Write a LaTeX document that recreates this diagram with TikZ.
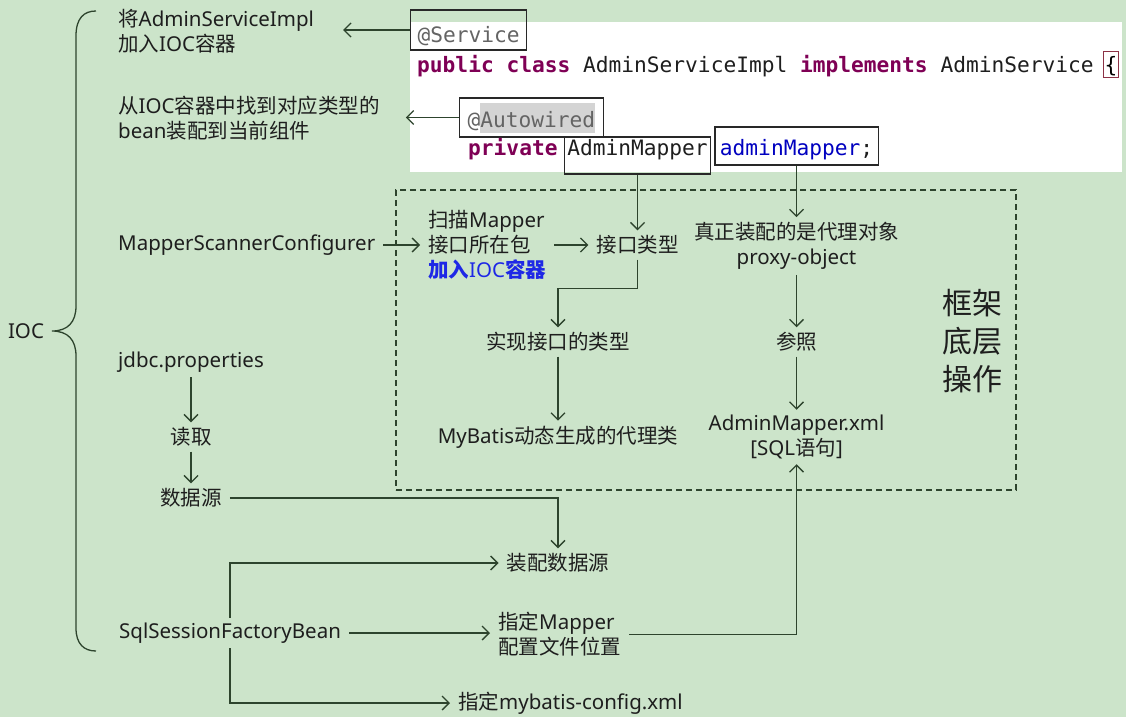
\documentclass[tikz,border=0pt]{standalone}
\usepackage{fontspec}
\setmainfont{Noto Sans}
\setmonofont{DejaVu Sans Mono}
\newfontfamily\zhfont{Noto Sans CJK SC}
\newcommand{\zh}[1]{{\zhfont #1}}
\usetikzlibrary{arrows.meta,positioning}
\definecolor{bgc}{RGB}{204,228,202}
\definecolor{linec}{RGB}{45,68,45}
\definecolor{textc}{RGB}{30,30,30}
\definecolor{kwc}{RGB}{127,0,85}
\definecolor{fieldc}{RGB}{0,0,192}
\definecolor{annc}{RGB}{100,100,100}
\definecolor{hlc}{RGB}{212,212,212}
\definecolor{boxc}{RGB}{40,40,40}
\definecolor{bracec}{RGB}{140,50,70}
\definecolor{iocblue}{RGB}{30,40,230}

\begin{document}
\begin{tikzpicture}[x=1pt, y=-1pt, node distance=95pt]

\tikzstyle{txt} = [font=\fontsize{20.5}{25}\selectfont, text=textc, inner xsep=8pt, inner ysep=5pt]
\tikzstyle{line} = [draw=linec, line width=1.3pt, -{Straight Barb[length=7pt,width=14pt]}]
\tikzstyle{code} = [font=\fontsize{21.2}{25}\selectfont\ttfamily, inner sep=0pt, anchor=base west]
\tikzstyle{codebox} = [code, draw=boxc, line width=1.2pt, inner ysep=0pt]
\tikzstyle{fwbox} = [draw=linec, dash pattern=on 6pt off 4pt, line width=1.1pt, minimum width=620pt, minimum height=300pt]

    % Background and code panel
    \fill[bgc] (0,0) rectangle (1126,717);
    \useasboundingbox (0,0) rectangle (1126,717);
    \node[fill=white, anchor=north west, inner sep=0pt, minimum width=712pt, minimum height=150pt] (panel) at (410,22) {};

    % Code lines
    \node[codebox, text=annc, text height=33pt, text depth=7pt, inner xsep=7pt] (service) at (410,43) {@Service};
    \node[code, text=textc] (classdecl) at (417,72) {\textcolor{kwc}{\bfseries public class} AdminServiceImpl \textcolor{kwc}{\bfseries implements} AdminService};
    \node[code, draw=bracec, line width=1pt, inner sep=1pt, text height=19pt, text depth=4pt] (lbrace) at (1103,72) {\{};
    \node[codebox, text=annc, text height=29pt, text depth=10pt, inner xsep=8pt] (autow) at (459,127) {@{\setlength{\fboxsep}{0pt}\colorbox{hlc}{\rule[-6pt]{0pt}{30pt}Autowired}}};
    \node[code, text=kwc] (priv) at (468,155) {\bfseries private};
    \node[codebox, text=textc, text height=18pt, text depth=19pt, inner xsep=3pt] (mtype) at ([xshift=6pt]priv.base east) {AdminMapper};
    \node[codebox, text=textc, text height=28pt, text depth=10pt, inner xsep=5pt] (mfield) at ([xshift=3pt]mtype.base east) {\textcolor{fieldc}{adminMapper};};

    % Left column
    \node[txt, anchor=west, align=left] (svc) at (110,31) {\zh{将}AdminServiceImpl\\\zh{加入}IOC\zh{容器}};
    \node[txt, anchor=west, align=left] (aw) at (110,118.5) {\zh{从}IOC\zh{容器中找到对应类型的}\\bean\zh{装配到当前组件}};
    \node[txt, anchor=west] (msc) at (110,245) {MapperScannerConfigurer};
    \node[txt, anchor=west] (jdbc) at (110,362) {jdbc.properties};
    \node[txt, below of=jdbc, node distance=75pt] (read) {\zh{读取}};
    \node[txt, below of=read, node distance=61pt] (src) {\zh{数据源}};
    \node[txt, anchor=west] (sqlf) at (111,633) {SqlSessionFactoryBean};

    % Framework part
    \node[fwbox] (fw) at (706,340) {};
    \node[txt, anchor=west, align=left] (scan) at (420,245) {\zh{扫描}Mapper\\\zh{接口所在包}\\\textcolor{iocblue}{\bfseries\zh{加入}IOC\zh{容器}}};
    \node[txt] (itype) at (mtype.south |- scan) {\zh{接口类型}};
    \node[txt] (impl) at (558,342) {\zh{实现接口的类型}};
    \node[txt, below of=impl] (mybatis) {MyBatis\zh{动态生成的代理类}};
    \node[txt, align=center, below of=mfield, node distance=100pt] (proxy) {\zh{真正装配的是代理对象}\\proxy-object};
    \node[txt, below of=proxy, node distance=96pt] (ref) {\zh{参照}};
    \node[txt, align=center, below of=ref] (xml) {AdminMapper.xml\\{[}SQL\zh{语句}{]}};
    \node[txt, font=\zhfont\fontsize{30}{38}\selectfont, align=left] (fwlabel) at (972,341) {框架\\底层\\操作};

    % Bottom part
    \node[txt] (asm) at (558,563) {\zh{装配数据源}};
    \node[txt, anchor=west, align=left] (mloc) at (490,634.5) {\zh{指定}Mapper\\\zh{配置文件位置}};
    \node[txt, anchor=west] (cfg) at (450,703) {\zh{指定}mybatis-config.xml};

    % IOC brace
    \node[txt] (ioc) at (26,331) {IOC};
    \draw[draw=linec, line width=1.3pt] (96,11) .. controls (84,11) and (76,18) .. (76,36) -- (76,306)
        .. controls (76,322) and (68,331) .. (52,331) .. controls (68,331) and (76,340) .. (76,356)
        -- (76,628) .. controls (76,644) and (84,651) .. (96,651);

    % Draw edges
    \path[line, shorten >=21pt] (service.west) -- (service.west -| svc.east);
    \path[line, shorten >=18pt] (autow.west) -- (autow.west -| aw.east);
    \path[line] (mtype.south) -- (itype.north);
    \path[line] (mfield.south) -- (proxy.north);
    \path[line] (msc.east) -- (scan.west);
    \path[line] (scan.east) -- (itype.west);
    \path[line] (itype.south) -- ++(0,29) -| (impl.north);
    \path[line] (impl) -- (mybatis);
    \path[line] (proxy) -- (ref);
    \path[line] (ref) -- (xml);
    \path[line] (jdbc) -- (read);
    \path[line] (read) -- (src);
    \path[line] (src.east) -| (asm.north);
    \path[line] (sqlf.north) |- (asm.west);
    \path[line] (sqlf.east) -- (sqlf.east -| mloc.west);
    \path[line] (mloc.east) -| (xml.south);
    \path[line] (sqlf.south) |- (cfg.west);
\end{tikzpicture}
\end{document}
